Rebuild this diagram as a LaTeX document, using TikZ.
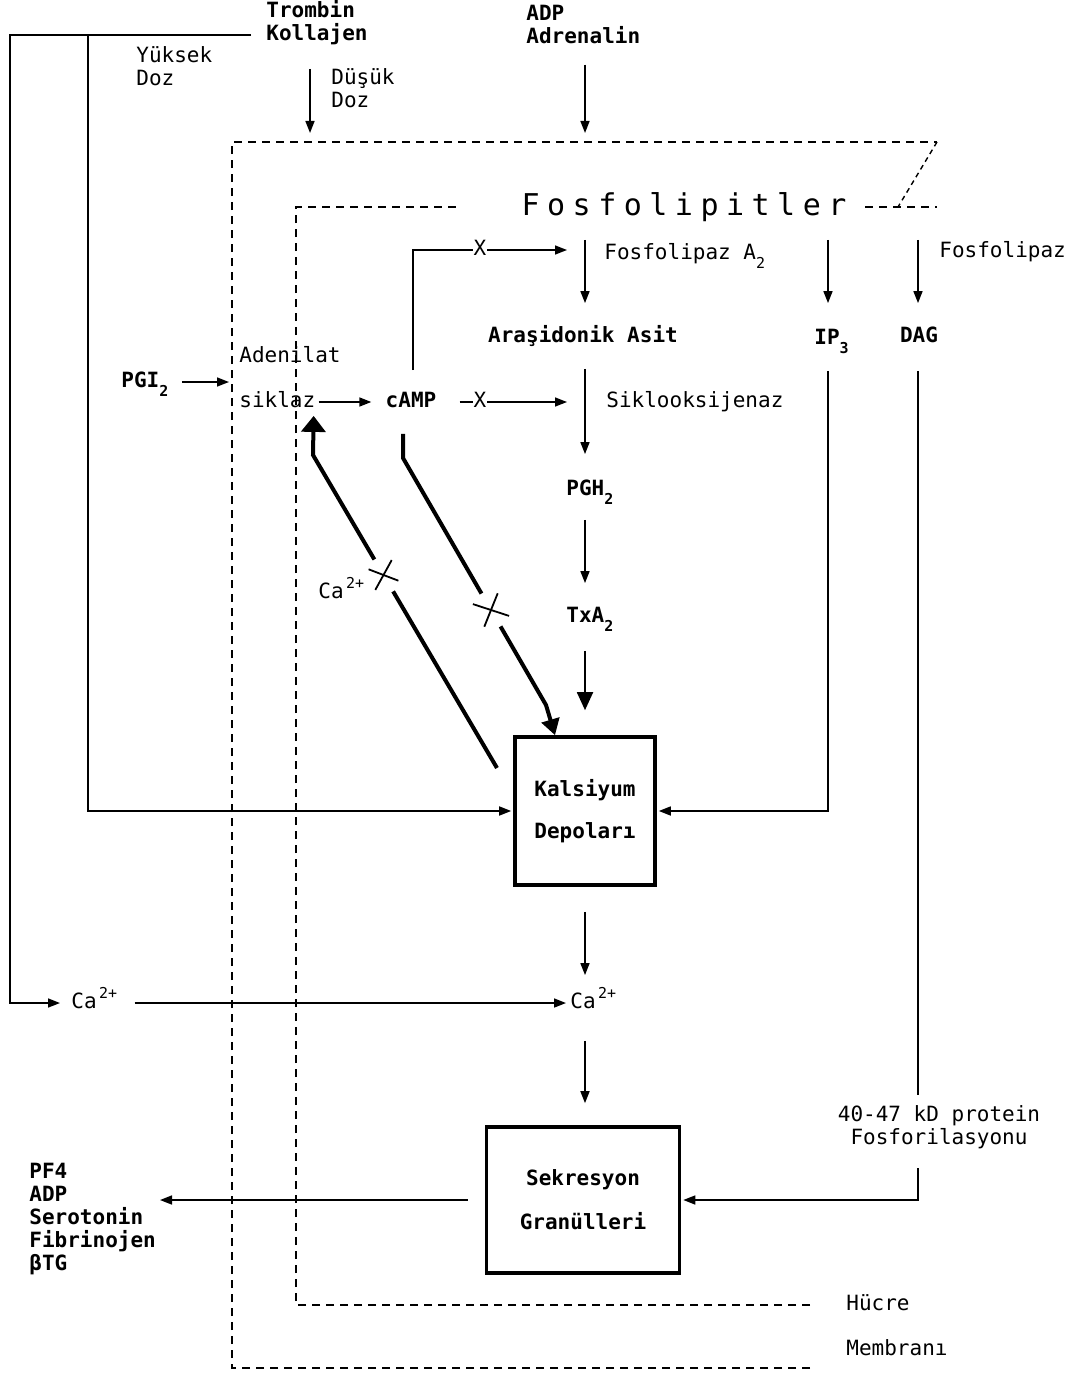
\documentclass[tikz,border=0pt]{standalone}
\usepackage{fontspec}
\setmonofont{DejaVu Sans Mono}
\newfontfamily\widefont[LetterSpace=25]{DejaVu Sans Mono}
\usetikzlibrary{arrows.meta, calc}

\newcommand\lowtxt[1]{\raisebox{-0.75ex}{\fontsize{7.5}{7.5}\selectfont #1}}
\newcommand\hightxt[1]{\raisebox{0.9ex}{\fontsize{7.5}{7.5}\selectfont\,#1}}

\tikzset{
  lbl/.style={font=\ttfamily\fontsize{10.5}{11.5}\selectfont, inner sep=1.5pt, text height=8pt, text depth=2.5pt},
  blbl/.style={lbl, font=\ttfamily\bfseries\fontsize{10.5}{11.5}\selectfont},
  mlbl/.style={font=\ttfamily\fontsize{10.5}{11.5}\selectfont, inner sep=1.5pt, align=left},
  bmlbl/.style={mlbl, font=\ttfamily\bfseries\fontsize{10.5}{11.5}\selectfont},
  arr/.style={line width=0.8pt, -{Triangle[length=6pt,width=4.5pt]}},
  bigarr/.style={line width=0.9pt, -{Triangle[length=9pt,width=8pt]}},
  thickline/.style={line width=2pt},
  inhib/.style={line width=0.9pt},
  membrane/.style={line width=0.7pt, dash pattern=on 4pt off 3pt},
  store/.style={draw, line width=1.8pt, align=center, inner sep=0pt,
    font=\ttfamily\bfseries\fontsize{10.5}{11.5}\selectfont},
  xmark/.style={lbl, fill=white, inner sep=0.5pt},
}

\begin{document}
\begin{tikzpicture}[x=0.5pt, y=-0.5pt]
    \useasboundingbox (0,0) rectangle (1074,1375);
    \def\colx{585} % main pathway column
    \def\ipx{828} % IP3 column
    \def\dagx{918} % DAG column

    % membranes %%%%%%%%%%%%%%%%%%%%%%%%%%%%%%%%%%%%%%%%%%%%%%%%%%%%%%%%%%%%%%%%%%%%%%%%%%%%%%%%%%%
    \draw[membrane] (810,1368) -- (232,1368) -- (232,142) -- (937,142);
    \draw[membrane, dash pattern=on 2.5pt off 2pt] (937,142) -- (898,207);
    \draw[membrane] (810,1305) -- (296,1305) -- (296,207) -- (460,207);
    \draw[membrane] (865,207) -- (937,207);
    \node[lbl, anchor=west] (hucre) at (843,1305) {Hücre};
    \node[lbl, anchor=west] (membrani) at (843,1350) {Membranı};

    % agonists %%%%%%%%%%%%%%%%%%%%%%%%%%%%%%%%%%%%%%%%%%%%%%%%%%%%%%%%%%%%%%%%%%%%%%%%%%%%%%%%%%%%
    \node[blbl, anchor=west] (trombin) at (263,12) {Trombin};
    \node[blbl, anchor=west] (kollajen) at (263,35) {Kollajen};
    \node[mlbl, anchor=west] (yuksek) at (133,66) {Yüksek\\Doz};
    \node[mlbl, anchor=west] (dusuk) at (328,88) {Düşük\\Doz};
    \node[bmlbl, anchor=west] (adp) at (523,24) {ADP\\Adrenalin};

    % inside the cell %%%%%%%%%%%%%%%%%%%%%%%%%%%%%%%%%%%%%%%%%%%%%%%%%%%%%%%%%%%%%%%%%%%%%%%%%%%%%
    \node[font=\widefont\fontsize{15}{16}\selectfont, inner sep=1.5pt] (fosfo) at (684,207) {Fosfolipitler};
    \node[lbl, anchor=west] (fa2) at (601,254) {Fosfolipaz A\lowtxt{2}};
    \node[lbl, anchor=west] (fpl) at (936,252) {Fosfolipaz};
    \node[blbl] (asit) at (583,337) {Araşidonik Asit};
    \node[blbl, anchor=west] (ip3) at (811,339) {IP\lowtxt{3}};
    \node[blbl] (dag) at (919,337) {DAG};
    \node[lbl, anchor=west] (adenilat) at (236,357) {Adenilat};
    \node[lbl, anchor=west] (siklaz) at (236,402) {siklaz};
    \node[blbl, anchor=west] (pgi) at (118,382) {PGI\lowtxt{2}};
    \node[blbl] (camp) at (411,402) {cAMP};
    \node[lbl, anchor=west] (siklo) at (603,402) {Siklooksijenaz};
    \node[blbl, anchor=west] (pgh) at (563,490) {PGH\lowtxt{2}};
    \node[blbl, anchor=west] (txa) at (563,617) {TxA\lowtxt{2}};
    \node[lbl, anchor=west] (cainh) at (315,593) {Ca\hightxt{2+}};
    \node[store, minimum width=70pt, minimum height=74pt] (kds) at (585,811) {Kalsiyum\\[9.5pt]Depoları};
    \node[lbl, anchor=west] (ca1) at (68,1003) {Ca\hightxt{2+}};
    \node[lbl, anchor=west] (ca2) at (567,1003) {Ca\hightxt{2+}};
    \node[store, minimum width=96.5pt, minimum height=73pt] (sek) at (583,1200) {Sekresyon\\[10.5pt]Granülleri};
    \node[mlbl, align=center] (protein) at (939,1127) {40-47 kD protein\\Fosforilasyonu};
    \node[bmlbl, anchor=north west] (release) at (26,1160) {PF4\\ADP\\Serotonin\\Fibrinojen\\βTG};

    % free ends %%%%%%%%%%%%%%%%%%%%%%%%%%%%%%%%%%%%%%%%%%%%%%%%%%%%%%%%%%%%%%%%%%%%%%%%%%%%%%%%%%%%
    \coordinate (col) at (\colx,0);
    \coordinate (ipcol) at (\ipx,0);
    \coordinate (dagcol) at (\dagx,0);
    \coordinate (adpin) at (\colx,133);
    \coordinate (lowin) at (310,133);
    \coordinate (hileft) at (10,35);
    \coordinate (hibranch) at (88,35);
    \coordinate (acin) at (229,382);
    \coordinate (coxin) at (567,402);
    \coordinate (fa2in) at (567,250);
    \coordinate (outp) at (160,1200);

    % arrows %%%%%%%%%%%%%%%%%%%%%%%%%%%%%%%%%%%%%%%%%%%%%%%%%%%%%%%%%%%%%%%%%%%%%%%%%%%%%%%%%%%%%%
    \draw[arr, shorten <=9pt] (adp.south -| adpin) -- (adpin);
    \draw[arr, shorten <=10pt] (kollajen.south -| lowin) -- (lowin);
    \draw[arr, shorten <=6pt, shorten >=4pt] (kollajen.west) -- (hileft) |- (ca1.west);
    \draw[arr, shorten >=1pt] (hibranch) |- (kds.west);
    \draw[arr, shorten <=5pt] (pgi.east) -- (acin);
    \draw[arr, shorten >=5.5pt] (siklaz.east) -- (camp.west);
    \draw[arr, shorten <=10pt] (camp.east) -- (coxin);
    \draw[arr, shorten <=9pt] ([xshift=1pt]camp.north) |- (fa2in);
    \node[xmark] (xa) at (480,402) {X};
    \node[xmark] (xb) at (480,250) {X};
    % main column
    \draw[arr, shorten <=7.5pt, shorten >=10pt] (col |- fosfo.south) -- (col |- asit.north);
    \draw[arr, shorten <=9pt, shorten >=11pt] (col |- asit.south) -- (col |- pgh.north);
    \draw[arr, shorten <=8pt, shorten >=10pt] (col |- pgh.south) -- (col |- txa.north);
    \draw[bigarr, shorten <=10pt, shorten >=12.5pt] (col |- txa.south) -- (col |- kds.north);
    \draw[arr, shorten <=12.5pt, shorten >=7pt] (col |- kds.south) -- (col |- ca2.north);
    \draw[arr, shorten <=12pt, shorten >=11pt] (col |- ca2.south) -- (col |- sek.north);
    \draw[arr, shorten <=7pt, shorten >=0.5pt] (ca1.east) -- (ca2.west);
    \draw[arr, shorten <=8.5pt] (sek.west) -- (outp);
    % IP3 and DAG
    \draw[arr, shorten <=7.5pt, shorten >=11pt] (ipcol |- fosfo.south) -- (ipcol |- ip3.north);
    \draw[arr, shorten <=7.5pt, shorten >=10pt] (dagcol |- fosfo.south) -- (dagcol |- dag.north);
    \draw[arr, shorten <=9pt, shorten >=1pt] (ipcol |- ip3.south) |- (kds.east);
    \draw[line width=0.8pt, shorten <=10pt, shorten >=3.5pt] (dagcol |- dag.south) -- (dagcol |- protein.north);
    \draw[arr, shorten <=8pt, shorten >=1pt] (dagcol |- protein.south) |- (sek.east);

    % blocked feedback %%%%%%%%%%%%%%%%%%%%%%%%%%%%%%%%%%%%%%%%%%%%%%%%%%%%%%%%%%%%%%%%%%%%%%%%%%%%
    \coordinate (castart) at (497,768);
    \coordinate (cacross) at (383.5,575);
    \coordinate (cabend) at (313,455);
    \draw[thickline] (castart) -- ($(cacross)!9.5pt!(castart)$);
    \draw[thickline, -{Triangle[length=8pt,width=12pt]}] ($(cacross)!9pt!(cabend)$) -- (cabend) -- ([xshift=-2.5pt]siklaz.south east);
    \draw[inhib] (cacross) ++(-8.2,14.9) -- ++(16.4,-29.8);
    \draw[inhib] (cacross) ++(-14.9,-5.7) -- ++(29.8,11.4);

    \coordinate (campbend) at (403,458);
    \coordinate (campcross) at (491,610);
    \coordinate (campknee) at (546,705);
    \draw[thickline, shorten <=9pt] ([xshift=-4pt]camp.south) -- (campbend) -- ($(campcross)!9.5pt!(campbend)$);
    \draw[thickline, -{Triangle[length=8pt,width=9pt]}] ($(campcross)!9.5pt!(campknee)$) -- (campknee) -- ([xshift=-15pt]kds.north);
    \draw[inhib] (campcross) ++(-6.7,16.7) -- ++(13.4,-33.4);
    \draw[inhib] (campcross) ++(-18.1,-5.9) -- ++(36.2,11.8);

\end{tikzpicture}
\end{document}
